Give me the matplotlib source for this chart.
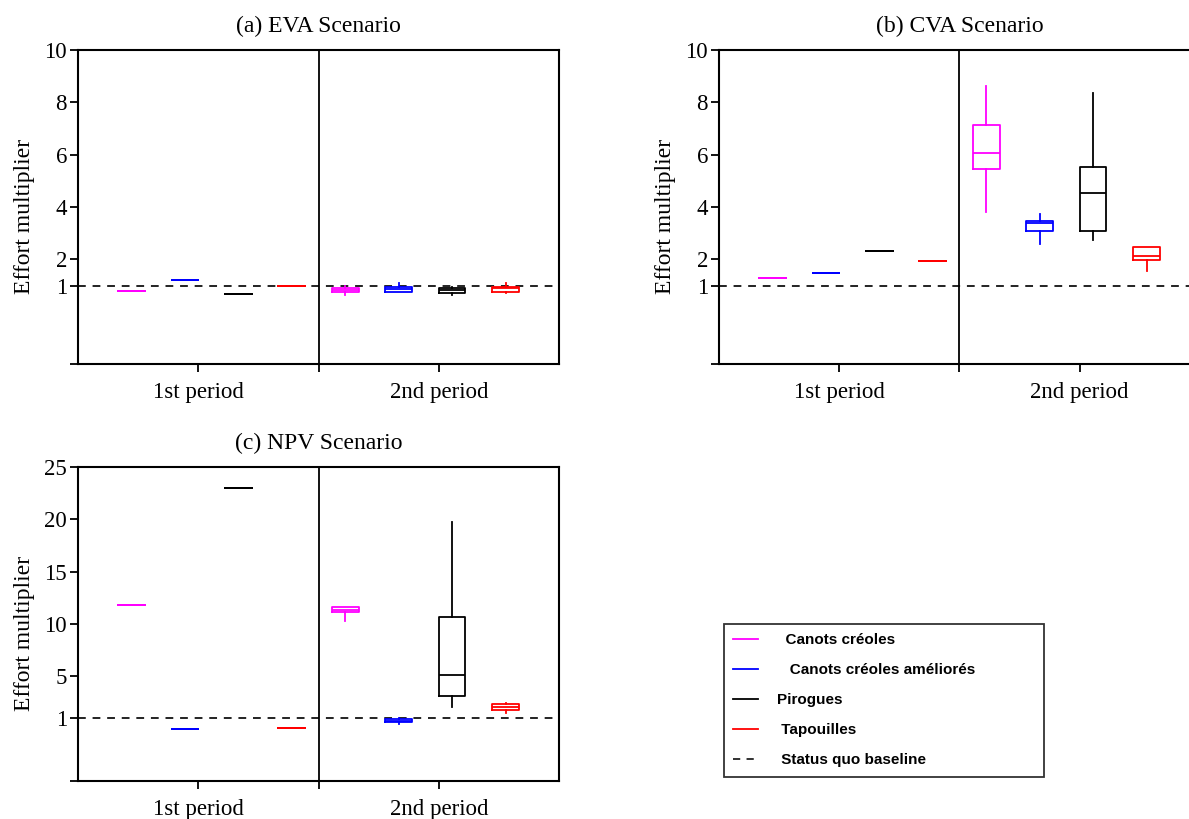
import numpy as np
import matplotlib
matplotlib.use('Agg')
import matplotlib.pyplot as plt
from matplotlib.lines import Line2D

plt.rcParams['font.family'] = ['Liberation Serif', 'DejaVu Serif']

types = ['Canots créoles', 'Canots créoles améliorés', 'Pirogues', 'Tapouilles']
colors = ['#ff00ff', '#0000ff', '#000000', '#ff0000']
periods = ['1st period', '2nd period']

# 1st period: one value per boat type
eva_p1 = [0.80, 1.20, 0.67, 1.00]
cva_p1 = [1.27, 1.46, 2.33, 1.92]
npv_p1 = [11.83, 0.0, 23.0, 0.1]

# 2nd period: whisker low, q1, median, q3, whisker high
eva_lo = [0.62, 0.74, 0.62, 0.71]
eva_q1 = [0.77, 0.74, 0.70, 0.77]
eva_med = [0.83, 0.87, 0.82, 0.90]
eva_q3 = [0.90, 0.95, 0.90, 0.96]
eva_hi = [1.00, 1.09, 0.96, 1.09]

cva_lo = [3.80, 2.58, 2.72, 1.57]
cva_q1 = [5.46, 3.07, 3.09, 1.98]
cva_med = [6.07, 3.39, 4.54, 2.14]
cva_q3 = [7.14, 3.48, 5.53, 2.47]
cva_hi = [8.62, 3.73, 8.34, 2.47]

npv_lo = [10.30, 0.40, 2.09, 1.50]
npv_q1 = [11.10, 0.60, 3.11, 1.80]
npv_med = [11.35, 0.78, 5.12, 2.10]
npv_q3 = [11.67, 0.90, 10.65, 2.37]
npv_hi = [11.67, 1.00, 19.70, 2.50]

baseline = 1


def panel(ax, title, p1, lo, q1, med, q3, hi, ylim, yticks):
    for i in range(4):
        stats = [
            dict(whislo=p1[i], q1=p1[i], med=p1[i], q3=p1[i], whishi=p1[i], fliers=[]),
            dict(whislo=lo[i], q1=q1[i], med=med[i], q3=q3[i], whishi=hi[i], fliers=[]),
        ]
        c = colors[i]
        ax.bxp(stats, positions=[i + 1, i + 5], widths=0.5, showcaps=False,
               showfliers=False, manage_ticks=False,
               boxprops=dict(color=c, lw=1.3),
               whiskerprops=dict(color=c, lw=1.3),
               medianprops=dict(color=c, lw=1.3))
    ax.axhline(baseline, color='#222222', lw=1.4, ls=(0, (4, 3.5)), zorder=1)
    ax.axvline(4.5, color='black', lw=1.3)
    ax.set_xlim(0, 9)
    ax.set_ylim(*ylim)
    ax.set_xticks([2.25, 4.5, 6.75])
    ax.set_xticklabels([periods[0], '', periods[1]])
    ax.set_yticks(yticks)
    ax.set_yticklabels([''] + [str(t) for t in yticks[1:]])
    ax.tick_params(direction='out', length=6, width=1.3, labelsize=16.5, pad=2)
    ax.tick_params(axis='x', pad=7)
    for s in ax.spines.values():
        s.set_linewidth(1.5)
    ax.set_ylabel('Effort multiplier', fontsize=17)
    ax.yaxis.set_label_coords(-0.09, 0.47)
    ax.set_title(title, fontsize=17, pad=13)


fig = plt.figure(figsize=(11.89, 8.19), dpi=100)
W, H = 1189, 819
aw, ah = 481 / W, 314 / H

ax_a = fig.add_axes([78 / W, 1 - 364 / H, aw, ah])
ax_b = fig.add_axes([719 / W, 1 - 364 / H, aw, ah])
ax_c = fig.add_axes([78 / W, 1 - 781 / H, aw, ah])

panel(ax_a, '(a) EVA Scenario', eva_p1, eva_lo, eva_q1, eva_med, eva_q3, eva_hi,
      (-2, 10), [-2, 1, 2, 4, 6, 8, 10])
panel(ax_b, '(b) CVA Scenario', cva_p1, cva_lo, cva_q1, cva_med, cva_q3, cva_hi,
      (-2, 10), [-2, 1, 2, 4, 6, 8, 10])
panel(ax_c, '(c) NPV Scenario', npv_p1, npv_lo, npv_q1, npv_med, npv_q3, npv_hi,
      (-5, 25), [-5, 1, 5, 10, 15, 20, 25])

handles = [Line2D([], [], color=c, lw=1.3) for c in colors]
handles.append(Line2D([], [], color='#222222', lw=1.3, ls=(0, (4, 3.5))))
labels = ['  ' + types[0], '   ' + types[1], types[2], ' ' + types[3],
          ' Status quo baseline']
leg = fig.legend(handles, labels, loc='upper left',
                 bbox_to_anchor=(724 / W, 1 - 776 / H, 320 / W, 152 / H),
                 mode='expand', frameon=True, fancybox=False, edgecolor='black',
                 handlelength=1.6, handletextpad=1.3, labelspacing=1.05,
                 borderpad=0.6, borderaxespad=0,
                 prop={'family': 'Liberation Sans', 'weight': 'bold', 'size': 11})
leg.get_frame().set_linewidth(1.3)

fig.savefig('out.png', dpi=100)
